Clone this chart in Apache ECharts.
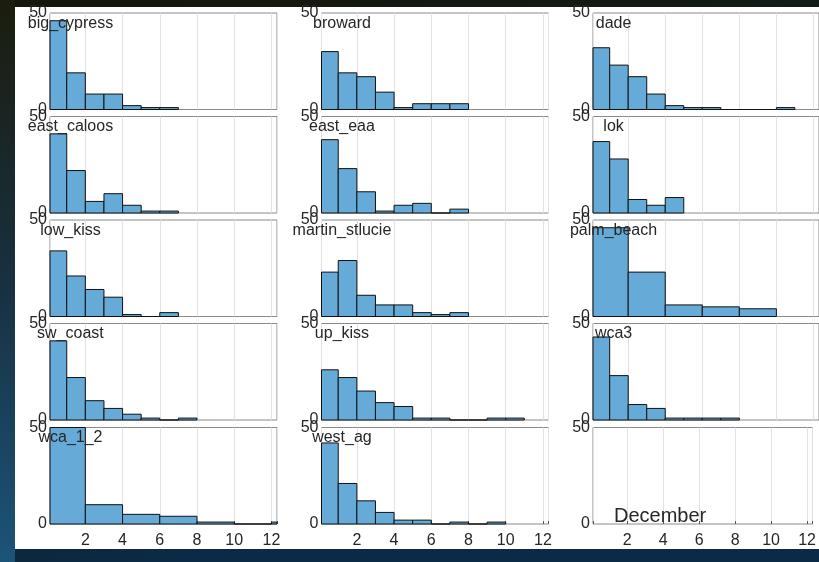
<!DOCTYPE html>
<html>
<head>
<meta charset="utf-8">
<script src="https://cdn.jsdelivr.net/npm/echarts@6/dist/echarts.min.js"></script>
<style>
html,body{margin:0;padding:0;background:#10180f;}
#chart{width:819px;height:562px;}
</style>
</head>
<body>
<div id="chart"></div>
<script>
// ---- data ----
const stations = ['big_cypress','broward','dade','east_caloos','east_eaa','lok','low_kiss','martin_stlucie','palm_beach','sw_coast','up_kiss','wca3','wca_1_2','west_ag'];
const big_cypress    = [46,19,8,8,2,1,1];
const broward        = [30,19,17,9,1,3,3,3];
const dade           = [32,23,17,8,2,1,1,0,0,0,1];
const east_caloos    = [41,22,6,10,4,1,1];
const east_eaa       = [38,23,11,1,4,5,0,2];
const lok            = [37,28,7,4,8];
const low_kiss       = [34,21,14,10,1,0,2];
const martin_stlucie = [23,29,11,6,6,2,1,2];
const palm_beach     = [46,23,6,5,4];
const sw_coast       = [41,22,10,6,3,1,0,1];
const up_kiss        = [26,22,15,9,7,1,1,0,0,1,1];
const wca3           = [43,23,8,6,1,1,1,1];
const wca_1_2        = [50,10,5,4,1,0,1];
const west_ag        = [42,21,12,6,2,2,0,1,0,1];
const countsByStation = {big_cypress,broward,dade,east_caloos,east_eaa,lok,low_kiss,martin_stlucie,palm_beach,sw_coast,up_kiss,wca3,wca_1_2,west_ag};
const binWidth = {palm_beach:2, wca_1_2:2};      // others: 1
const xTickLabels = ['2','4','6','8','10','12'];
const yTickLabels = ['0','50'];
const monthLabel = 'December';

// ---- layout ----
const colLeft = [50, 321.5, 593];
const colWidth = [227, 227, 228];
const rowTop = [13, 116.5, 220, 323.5, 427.5];
const rowHeight = 96.5;
const X_MIN = 0.1, X_MAX = 12.3;
const LABEL_X = 1.2;   // data x of the station label centre

const FONT = 'Liberation Sans, Arial, sans-serif';
const TXT = '#262626';
const grids=[], xAxes=[], yAxes=[], series=[], titles=[];

function renderBar(params, api){
  const x0=api.value(0), x1=api.value(1), c=api.value(2);
  const p0=api.coord([x0,c]), p1=api.coord([x1,0]);
  const shape = echarts.graphic.clipRectByRect(
    {x:p0[0], y:p0[1], width:p1[0]-p0[0], height:p1[1]-p0[1]},
    {x:params.coordSys.x, y:params.coordSys.y, width:params.coordSys.width, height:params.coordSys.height});
  if(!shape) return;
  return {type:'rect', shape:shape, style:{fill:'#66aad7', stroke:'#111', lineWidth:1}};
}

for(let i=0;i<15;i++){
  const r=Math.floor(i/3), c=i%3;
  const bottom = (r===4);
  grids.push({left:colLeft[c], top:rowTop[r], width:colWidth[c], height:rowHeight,
    show:true, backgroundColor:'#ffffff', borderColor:'#8a8a8a', borderWidth:1, containLabel:false});
  xAxes.push({type:'value', gridIndex:i, min:X_MIN, max:X_MAX, minInterval:2, maxInterval:2,
    axisLine:{show:false}, axisTick:{show:bottom, inside:true, length:3, lineStyle:{color:'#555'}},
    splitLine:{show:true, lineStyle:{color:'#e2e2e2', width:1}},
    axisLabel:{show:bottom, color:TXT, fontSize:16, fontFamily:FONT, margin:9,
      formatter:v=>{const s=String(Math.round(v)); return (Math.abs(v-Math.round(v))<1e-6 && xTickLabels.includes(s))? s : '';}}});
  yAxes.push({type:'value', gridIndex:i, min:0, max:50, interval:50,
    axisLine:{show:false}, axisTick:{show:false}, splitLine:{show:false},
    axisLabel:{show:true, color:TXT, fontSize:16, fontFamily:FONT, margin:3,
      formatter:v=>yTickLabels.includes(String(v))?String(v):''}});
  if(i<stations.length){
    const name=stations[i];
    const w=binWidth[name]||1;
    const data=countsByStation[name].map((v,k)=>[k*w,(k+1)*w,v]);
    series.push({type:'custom', xAxisIndex:i, yAxisIndex:i, renderItem:renderBar,
      encode:{x:[0,1], y:2}, data:data, silent:true, animation:false});
    titles.push({text:name, left:colLeft[c] + (LABEL_X-X_MIN)/(X_MAX-X_MIN)*colWidth[c], top:rowTop[r]+2.5,
      textAlign:'center', padding:0,
      textStyle:{fontSize:16, fontWeight:'normal', color:TXT, fontFamily:FONT}});
  } else {
    titles.push({text:monthLabel, left:colLeft[c]+21, top:rowTop[r]+rowHeight-18, padding:0,
      textStyle:{fontSize:20, fontWeight:'normal', color:TXT, fontFamily:FONT}});
  }
}

const chart = echarts.init(document.getElementById('chart'), null, {renderer:'canvas'});
chart.setOption({
  animation:false,
  backgroundColor:{type:'linear', x:0, y:0, x2:0.2, y2:1, colorStops:[
    {offset:0, color:'#15160a'}, {offset:0.45, color:'#121c18'}, {offset:1, color:'#0b2a45'}]},
  graphic:[
    {type:'rect', left:0, top:0, z:-2, shape:{width:15, height:562},
      style:{fill:{type:'linear', x:0, y:0, x2:0, y2:1, colorStops:[
        {offset:0, color:'#1b1d0d'}, {offset:0.5, color:'#183040'}, {offset:1, color:'#1c5478'}]}}},
    {type:'rect', left:15, top:7, z:-1, shape:{width:804, height:542}, style:{fill:'#ffffff'}}
  ],
  title:titles, grid:grids, xAxis:xAxes, yAxis:yAxes, series:series
});
</script>
</body>
</html>
